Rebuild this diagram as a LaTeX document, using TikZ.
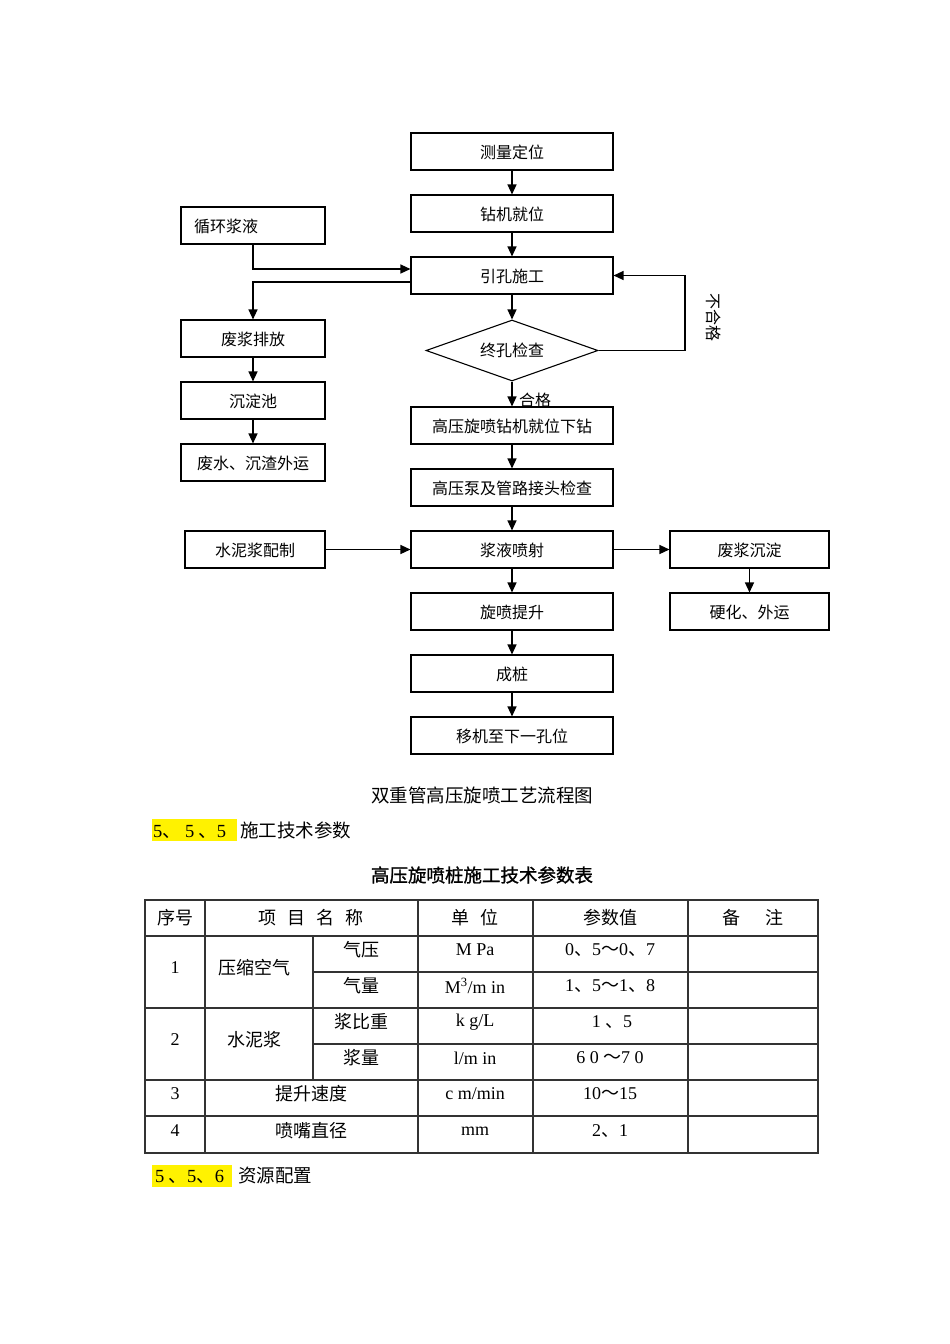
\documentclass[tikz,border=0pt]{standalone}
\usepackage{fontspec}
\setmainfont{Noto Sans CJK SC}
\newfontfamily\lat{Liberation Serif}
\newfontfamily\cjkbold[FakeBold=1.2]{Noto Sans CJK SC}
\usetikzlibrary{arrows.meta,shapes.geometric}
\newcommand\fsflow{\fontsize{16}{18}\selectfont}
\newcommand\fstab{\fontsize{18}{20}\selectfont}
\begin{document}
\begin{tikzpicture}[x=1pt,y=-1pt,
  box/.style={draw, line width=1.1pt, minimum height=37pt, inner sep=0pt, font=\fsflow, text depth=0pt},
  cbox/.style={box, minimum width=202pt},
  lbox/.style={box, minimum width=144pt},
  rbox/.style={box, minimum width=159pt},
  arr/.style={-{Triangle[length=10pt,width=9pt]}, line width=1.3pt},
  tline/.style={line width=1.1pt, draw=black!80},
  tt/.style={font=\fstab, inner sep=0pt, anchor=center},
  lbl/.style={font=\fsflow, inner sep=0pt}]
\useasboundingbox (0,0) rectangle (950,1344);
% centre column
\node[cbox] (cl) at (512,151.5) {测量定位};
\node[cbox] (zj) at (512,213.5) {钻机就位};
\node[cbox] (yk) at (512,275.5) {引孔施工};
\node[draw, diamond, aspect=2.8, line width=1.1pt, minimum width=172pt, minimum height=61pt, inner sep=0pt, font=\fsflow] (dm) at (512,350.5) {终孔检查};
\node[cbox] (gy) at (512,425.5) {高压旋喷钻机就位下钻};
\node[cbox] (gb) at (512,487.5) {高压泵及管路接头检查};
\node[cbox] (jy) at (512,549.5) {浆液喷射};
\node[cbox] (xp) at (512,611.5) {旋喷提升};
\node[cbox] (cz) at (512,673.5) {成桩};
\node[cbox] (yj) at (512,735.5) {移机至下一孔位};
% left column
\node[lbox, text width=118pt, align=left] (xh) at (253,225.5) {循环浆液};
\node[lbox] (fp) at (253,338.5) {废浆排放};
\node[lbox] (cd) at (253,400.5) {沉淀池};
\node[lbox] (fs) at (253,462.5) {废水、沉渣外运};
\node[box, minimum width=140pt] (sn) at (255,549.5) {水泥浆配制};
% right column
\node[rbox] (fc) at (749.5,549.5) {废浆沉淀};
\node[rbox] (yh) at (749.5,611.5) {硬化、外运};
% connectors
\draw[arr] (cl) -- (zj);
\draw[arr] (zj) -- (yk);
\draw[arr] (yk) -- (dm);
\draw[arr] (dm) -- (gy);
\draw[arr] (gy) -- (gb);
\draw[arr] (gb) -- (jy);
\draw[arr] (jy) -- (xp);
\draw[arr] (xp) -- (cz);
\draw[arr] (cz) -- (yj);
\draw[arr] (xh.south) |- ([yshift=6.5pt]yk.west);
\draw[arr] ([yshift=-6.5pt]yk.west) -| (fp.north);
\draw[arr] (fp) -- (cd);
\draw[arr] (cd) -- (fs);
\coordinate (bh) at (685,275.5);
\draw[arr] (dm.east) -| (bh) -- (yk.east);
\draw[arr] (sn) -- (jy);
\draw[arr] (jy) -- (fc);
\draw[arr] (fc) -- (yh);
\node[lbl, rotate=-90] (bhg) at (714,317) {不合格};
\node[lbl] (hg) at (535,400) {合格};
% captions
\node[font=\fontsize{18.5}{20}\selectfont, inner sep=0pt] (cap) at (482,795) {双重管高压旋喷工艺流程图};
\fill[yellow] (152,819) rectangle (237,841);
\node[font=\fontsize{18.5}{20}\selectfont, inner sep=0pt, anchor=west] (s555) at (153,830) {{\lat 5}、 {\lat 5} 、{\lat 5}\hspace{14pt}施工技术参数};
\node[font=\cjkbold\fontsize{18.5}{20}\selectfont, inner sep=0pt] (tcap) at (482,875) {高压旋喷桩施工技术参数表};
% table
\draw[tline] (145,900) rectangle (818,1153);
\foreach \y in {936,1080,1116} \draw[tline] (145,\y) -- (818,\y);
\draw[tline] (145,1008) -- (818,1008);
\draw[tline] (313,972) -- (818,972);
\draw[tline] (313,1044) -- (818,1044);
\draw[tline] (205,900) -- (205,1153);
\draw[tline] (313,936) -- (313,1080);
\foreach \x in {418,533,688} \draw[tline] (\x,900) -- (\x,1153);
% header
\node[tt] (h1) at (175,918) {序号};
\node[tt] (h2) at (311,918) {项\hspace{0.6em}目\hspace{0.6em}名\hspace{0.6em}称};
\node[tt] (h3) at (475,918) {单\hspace{0.6em}位};
\node[tt] (h4) at (610,918) {参数值};
\node[tt] (h5) at (753,918) {备\hspace{1.4em}注};
% row 1
\node[tt] (r1a) at (175,968) {\lat 1};
\node[tt] (r1b) at (254,968) {压缩空气};
\node[tt] (r1c) at (361,950) {气压};
\node[tt] (r1d) at (475,950) {\lat M Pa};
\node[tt] (r1e) at (610,950) {{\lat 0}、{\lat 5}～{\lat 0}、{\lat 7}};
\node[tt] (r1f) at (361,986) {气量};
\node[tt] (r1g) at (475,986) {{\lat M\textsuperscript{3}/m in}};
\node[tt] (r1h) at (610,986) {{\lat 1}、{\lat 5}～{\lat 1}、{\lat 8}};
% row 2
\node[tt] (r2a) at (175,1040) {\lat 2};
\node[tt] (r2b) at (254,1040) {水泥浆};
\node[tt] (r2c) at (361,1022) {浆比重};
\node[tt] (r2d) at (475,1022) {\lat k g/L};
\node[tt] (r2e) at (612,1022) {{\lat 1} 、{\lat 5}};
\node[tt] (r2f) at (361,1058) {浆量};
\node[tt] (r2g) at (475,1058) {\lat l/m in};
\node[tt] (r2h) at (610,1058) {{\lat 6 0} ～{\lat 7 0}};
% row 3
\node[tt] (r3a) at (175,1094) {\lat 3};
\node[tt] (r3b) at (311,1094) {提升速度};
\node[tt] (r3c) at (475,1094) {\lat c m/min};
\node[tt] (r3d) at (610,1094) {{\lat 10}～{\lat 15}};
% row 4
\node[tt] (r4a) at (175,1131) {\lat 4};
\node[tt] (r4b) at (311,1131) {喷嘴直径};
\node[tt] (r4c) at (475,1131) {\lat mm};
\node[tt] (r4d) at (610,1131) {{\lat 2}、{\lat 1}};
% footer
\fill[yellow] (152,1165) rectangle (232,1187);
\node[font=\fontsize{18.5}{20}\selectfont, inner sep=0pt, anchor=west] (s556) at (155,1176) {{\lat 5} 、{\lat 5}、{\lat 6}\hspace{14pt}资源配置};
\end{tikzpicture}
\end{document}
